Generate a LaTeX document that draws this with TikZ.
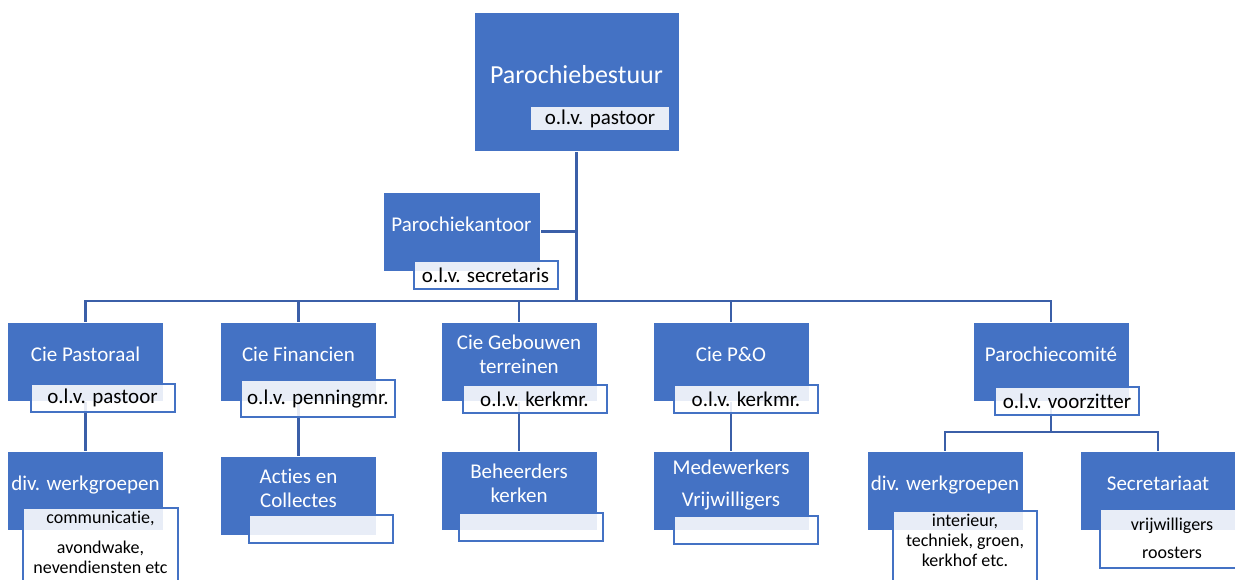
\documentclass[tikz,border=0pt]{standalone}
\usepackage{fontspec}
\setmainfont[Ligatures=NoCommon]{Carlito}
\usepackage{tikz}
\usetikzlibrary{positioning, backgrounds}
\usepackage{xcolor}
\definecolor{blauw}{HTML}{4472C4}
\definecolor{lijnblauw}{HTML}{3B5FA8}

\begin{document}
\begin{tikzpicture}[
  x=1pt, y=-1pt,
  blok/.style={rectangle, fill=blauw, draw=white, line width=0.6pt, text=white, minimum width=156pt, minimum height=79pt, inner sep=2pt, align=center, text depth=15pt, font=\fontsize{21}{24}\selectfont},
  sub/.style={rectangle, draw=blauw, line width=2pt, fill=white, fill opacity=0.88, text opacity=1, text=black, minimum width=144pt, minimum height=28pt, inner xsep=6pt, inner ysep=5pt, align=center, font=\fontsize{21}{24}\selectfont},
  subklein/.style={sub, inner ysep=3pt, font=\fontsize{18}{20}\selectfont},
  lijn/.style={draw=lijnblauw, line width=2.5pt}
]
\useasboundingbox (0,0) rectangle (1235,579);

% bestuur en kantoor
\node[blok, minimum width=205pt, minimum height=139pt, font=\fontsize{26}{30}\selectfont] (bestuur) at (576.5,81.5) {Parochiebestuur};
\node[sub, xshift=23.5pt, yshift=32.5pt, minimum width=140pt, minimum height=25pt, inner ysep=3pt] (bestuur-sub) at (bestuur.south) {o.l.v. pastoor};
\node[blok, minimum width=157pt] (kantoor) at (461.5,231.5) {Parochiekantoor};
\node[sub, xshift=24pt, yshift=-3.5pt] (kantoor-sub) at (kantoor.south) {o.l.v. secretaris};

% commissies
\node[blok] (pastoraal) at (85.5,361.5) {Cie Pastoraal};
\node[sub, xshift=17pt, yshift=3.5pt] (pastoraal-sub) at (pastoraal.south) {o.l.v. pastoor};
\node[blok] (financien) at (298.5,361.5) {Cie Financien};
\node[sub, xshift=19.5pt, yshift=2.5pt, minimum height=37pt] (financien-sub) at (financien.south) {o.l.v. penningmr.};
\node[blok] (gebouwen) at (519,361.5) {Cie Gebouwen\\terreinen};
\node[sub, xshift=15.5pt, yshift=2pt] (gebouwen-sub) at (gebouwen.south) {o.l.v. kerkmr.};
\node[blok] (peno) at (731,361.5) {Cie P\&O};
\node[sub, xshift=15pt, yshift=2.5pt] (peno-sub) at (peno.south) {o.l.v. kerkmr.};
\node[blok] (comite) at (1051,361.5) {Parochiecomité};
\node[sub, xshift=16pt, yshift=0.5pt] (comite-sub) at (comite.south) {o.l.v. voorzitter};

% werkgroepen
\node[blok] (werkgroepen) at (85.5,490.5) {div. werkgroepen};
\node[subklein, anchor=north, xshift=15pt, yshift=23pt, minimum width=155pt, text depth=28pt] (werkgroepen-sub) at (werkgroepen.south) {communicatie,\\[10pt]avondwake,\\nevendiensten etc};
\node[blok] (acties) at (298.5,495.5) {Acties en\\Collectes};
\node[subklein, xshift=22.5pt, yshift=6pt] (acties-sub) at (acties.south) {};
\node[blok] (beheerders) at (519,491) {Beheerders\\kerken};
\node[subklein, xshift=12pt, yshift=3.5pt] (beheerders-sub) at (beheerders.south) {};
\node[blok] (medewerkers) at (731,491) {Medewerkers\\[8pt]Vrijwilligers};
\node[subklein, xshift=15pt, yshift=1pt] (medewerkers-sub) at (medewerkers.south) {};
\node[blok] (werkgroepen2) at (945,491) {div. werkgroepen};
\node[subklein, anchor=north, xshift=20pt, yshift=21pt, text depth=28pt] (werkgroepen2-sub) at (werkgroepen2.south) {interieur,\\techniek, groen,\\kerkhof etc.};
\node[blok] (secretariaat) at (1158,491) {Secretariaat};
\node[subklein, anchor=north, xshift=14pt, yshift=23pt, minimum height=59pt] (secretariaat-sub) at (secretariaat.south) {vrijwilligers\\[8pt]roosters};

% verbindingen
\begin{scope}[on background layer]
\coordinate (bus) at (576.5,301);
\coordinate (splits) at (1051,432);
\draw[lijn] (bestuur.south) -- (bus);
\draw[lijn] (kantoor.east) -- (kantoor.east -| bus);
\foreach \n in {pastoraal,financien,gebouwen,peno,comite}
  \draw[lijn] (\n.north) |- (bus);
\draw[lijn] (pastoraal.south) -- (werkgroepen.north);
\draw[lijn] (financien.south) -- (acties.north);
\draw[lijn] (gebouwen.south) -- (beheerders.north);
\draw[lijn] (peno.south) -- (medewerkers.north);
\draw[lijn] (comite.south) -- (splits);
\draw[lijn] (werkgroepen2.north) |- (splits);
\draw[lijn] (secretariaat.north) |- (splits);
\end{scope}
\end{tikzpicture}
\end{document}
